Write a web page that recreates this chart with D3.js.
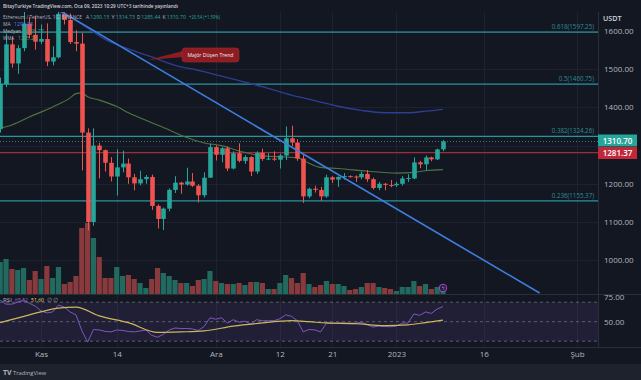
<!DOCTYPE html>
<html><head><meta charset="utf-8">
<script src="https://cdn.jsdelivr.net/npm/d3@7"></script>
<style>
html,body{margin:0;padding:0;background:#131722;overflow:hidden;}
svg{display:block;font-family:"Open Sans",sans-serif;}
</style></head><body>
<svg id="c" width="641" height="380"></svg>
<script>
// ---------- DATA ----------
const dates = ["2022-10-25","2022-10-26","2022-10-27","2022-10-28","2022-10-29","2022-10-30","2022-10-31",
"2022-11-01","2022-11-02","2022-11-03","2022-11-04","2022-11-05","2022-11-06","2022-11-07","2022-11-08","2022-11-09","2022-11-10",
"2022-11-11","2022-11-12","2022-11-13","2022-11-14","2022-11-15","2022-11-16","2022-11-17","2022-11-18","2022-11-19","2022-11-20",
"2022-11-21","2022-11-22","2022-11-23","2022-11-24","2022-11-25","2022-11-26","2022-11-27","2022-11-28","2022-11-29","2022-11-30",
"2022-12-01","2022-12-02","2022-12-03","2022-12-04","2022-12-05","2022-12-06","2022-12-07","2022-12-08","2022-12-09","2022-12-10",
"2022-12-11","2022-12-12","2022-12-13","2022-12-14","2022-12-15","2022-12-16","2022-12-17","2022-12-18","2022-12-19","2022-12-20",
"2022-12-21","2022-12-22","2022-12-23","2022-12-24","2022-12-25","2022-12-26","2022-12-27","2022-12-28","2022-12-29","2022-12-30",
"2022-12-31","2023-01-01","2023-01-02","2023-01-03","2023-01-04","2023-01-05","2023-01-06","2023-01-07","2023-01-08","2023-01-09"];
const opens = [1343,1461,1565,1515,1555,1619,1590,
1572,1579,1520,1531,1645,1629,1571,1567,1334,1100,
1300,1288,1255,1219,1243,1253,1217,1201,1212,1218,
1142,1108,1135,1184,1203,1198,1206,1195,1170,1216,
1296,1276,1293,1240,1280,1260,1270,1232,1281,1265,
1266,1263,1274,1319,1308,1266,1167,1187,1184,1167,
1217,1211,1218,1220,1219,1217,1226,1212,1189,1200,
1197,1196,1200,1214,1214,1256,1251,1269,1264,1290.15];
const highs = [1478,1593,1585,1563,1665,1637,1640,
1617,1620,1560,1680,1674,1646,1602,1595,1345,1345,
1307,1290,1270,1290,1287,1266,1226,1234,1223,1224,
1146,1138,1188,1220,1205,1242,1228,1199,1230,1305,
1301,1296,1298,1285,1306,1275,1272,1285,1292,1280,
1285,1279,1350,1352,1317,1275,1190,1195,1192,1224,
1220,1219,1228,1222,1222,1232,1236,1216,1205,1202,
1210,1205,1220,1225,1269,1260,1274,1271,1292,1314.73];
const lows = [1334,1453,1504,1488,1547,1581,1551,
1566,1508,1510,1528,1617,1566,1547,1235,1078,1090,
1214,1232,1206,1169,1230,1200,1183,1196,1200,1132,
1083,1079,1128,1176,1174,1195,1192,1151,1164,1216,
1261,1256,1233,1238,1256,1252,1220,1226,1260,1262,
1260,1240,1262,1298,1260,1150,1162,1177,1155,1163,
1202,1192,1211,1216,1205,1212,1205,1185,1183,1183,
1191,1192,1195,1205,1212,1241,1235,1259,1262,1285.44];
const closes = [1461,1565,1515,1555,1619,1590,1572,
1579,1520,1531,1645,1629,1571,1567,1334,1100,1300,
1288,1255,1219,1243,1253,1217,1201,1212,1218,1142,
1108,1135,1184,1203,1198,1206,1195,1170,1216,1296,
1276,1293,1240,1280,1260,1270,1232,1281,1265,1266,
1263,1274,1319,1308,1266,1167,1187,1184,1167,1217,
1211,1218,1220,1219,1217,1226,1212,1189,1200,1197,
1196,1200,1214,1215,1256,1251,1269,1264,1290,1310.70];
// volume, thousand ETH
const volumes = [1920,2100,1500,1440,1560,840,1380,
900,1680,960,1620,600,720,1080,3960,4260,3360,
2220,960,960,1620,1080,1140,900,660,360,900,
1560,1260,1080,840,660,660,480,840,900,1380,
780,660,600,600,660,540,720,720,660,300,
300,660,1140,960,660,1260,600,420,540,780,
600,600,480,240,300,420,660,660,420,360,
300,180,420,420,780,480,600,300,420,240];
const rsiValues = [72,68,68,70,72,69,66,
61,59,60,67,65,60,57,41,29,42,
41.5,40,39.5,41.5,41,40,39.5,40.5,41.5,36,
34,37,41.5,43.5,43,43,42.5,41,45,54,
52.5,54,48.5,52,49.5,50.5,47.5,52,51,51,
51,53,57,55.5,51,39.5,42,41.5,39.5,48.5,
48,48.5,48.7,48.6,48.5,49.5,47,44.5,45.5,45,
44.8,45.5,48.5,48.7,58,56.5,60,58.5,63,65.5];
// RSI moving average (sampled)
const rsiMaDates = ["2022-10-25","2022-10-30","2022-11-04","2022-11-07","2022-11-11","2022-11-16","2022-11-21","2022-11-25","2022-11-29","2022-12-04","2022-12-09","2022-12-14","2022-12-17","2022-12-20","2022-12-25","2022-12-30","2023-01-03","2023-01-06","2023-01-09"];
const rsiMaValues = [49,57,64,65,56,49,39,39.5,40.5,45.5,48.7,51,50,48.7,48,46,46.8,49,51.6];
// 200 MA (navy)
const maDates = ["2022-10-25","2022-10-29","2022-11-02","2022-11-04","2022-11-08","2022-11-12","2022-11-16","2022-11-20","2022-11-24","2022-11-28","2022-12-02","2022-12-06","2022-12-10","2022-12-14","2022-12-18","2022-12-22","2022-12-26","2022-12-30","2023-01-03","2023-01-06","2023-01-09"];
const maValues = [1700,1685,1666,1652,1618,1578,1553,1532,1510,1497,1482,1466,1450,1432,1418,1403,1392,1386,1386,1390,1395];
// WMA (olive)
const wmaDates = ["2022-10-25","2022-10-27","2022-10-30","2022-11-03","2022-11-06","2022-11-07","2022-11-08","2022-11-09","2022-11-11","2022-11-14","2022-11-16","2022-11-20","2022-11-23","2022-11-26","2022-11-29","2022-12-02","2022-12-05","2022-12-09","2022-12-13","2022-12-15","2022-12-17","2022-12-19","2022-12-22","2022-12-27","2023-01-01","2023-01-04","2023-01-06","2023-01-09"];
const wmaValues = [1346,1354,1375,1401,1425,1436,1438,1428,1419,1402,1386,1360,1341,1321,1307,1300,1286,1273,1270,1268,1254,1243,1240,1233,1228,1230,1234,1237];
// Drawings
const trendDates = ["2022-11-04T14:00","2023-01-25T14:00"];
const trendPrices = [1650,914];
const fibLevels = ["0.618","0.5","0.382","0.236"];
const fibPrices = [1597.25,1460.75,1324.26,1155.37];
const redLevel = 1281.37;
const lastPrice = 1310.70;
// Axis ticks
const priceTicks = [1600,1500,1400,1200,1100,1000];
const priceGrid = [1000,1100,1200,1300,1400,1500,1600];
const timeTicks = ["2022-11-01","2022-11-14","2022-12-01","2022-12-12","2022-12-21","2023-01-01","2023-01-16","2023-02-01"];
const timeLabels = ["Kas","14","Ara","12","21","2023","16","Şub"];
const rsiTicks = [75,50];
const rsiBands = [70,50,30];

// ---------- SETUP ----------
const pd = d3.timeParse("%Y-%m-%d"), pdt = d3.timeParse("%Y-%m-%dT%H:%M");
const svg = d3.select("#c");
const PR = 598, PT = 12, PB = 294, RT = 295, RB = 347;
const x = d3.scaleTime().domain([pd("2022-11-01"), pd("2023-02-01")]).range([41, 577]);
const y = d3.scaleLinear().domain([911.5, 1649.7]).range([PB, PT]);
const yv = d3.scaleLinear().domain([0, 4260]).range([PB, 223]);
const yr = d3.scaleLinear().domain([24, 77.4]).range([RB, RT]);

const candles = dates.map((d,i)=>({date:pd(d),o:opens[i],h:highs[i],l:lows[i],c:closes[i],v:volumes[i],r:rsiValues[i]}));
const UP="#26a69a", DN="#ef5350";

svg.append("rect").attr("width",641).attr("height",380).attr("fill","#131722");
svg.append("rect").attr("x",0).attr("y",364).attr("width",641).attr("height",16).attr("fill","#1e222d");

const defs = svg.append("defs");
defs.append("clipPath").attr("id","pc").append("rect").attr("x",0).attr("y",PT).attr("width",PR).attr("height",PB-PT);
defs.append("clipPath").attr("id","rc").append("rect").attr("x",0).attr("y",RT).attr("width",PR).attr("height",RB-RT);

// grid
const grid = svg.append("g").attr("stroke","#1d2130").attr("stroke-width",1);
timeTicks.forEach(t=>{ const xx=Math.round(x(pd(t)))+0.5;
  grid.append("line").attr("x1",xx).attr("x2",xx).attr("y1",PT).attr("y2",RB); });
priceGrid.forEach(p=>{ const yy=Math.round(y(p))+0.5;
  grid.append("line").attr("x1",0).attr("x2",PR).attr("y1",yy).attr("y2",yy); });

const pg = svg.append("g").attr("clip-path","url(#pc)");

// volume
pg.selectAll("rect.vol").data(candles).join("rect").attr("class","vol")
  .attr("x",d=>x(d.date)-2.6).attr("width",5.2)
  .attr("y",d=>yv(d.v)).attr("height",d=>PB-yv(d.v))
  .attr("fill",d=>d.c>=d.o?"#22695f":"#883a3c");

// fib lines
fibPrices.forEach((p,i)=>{
  const yy=y(p);
  pg.append("line").attr("x1",0).attr("x2",PR).attr("y1",yy).attr("y2",yy).attr("stroke","#2896a0").attr("stroke-width",1.2);
  svg.append("text").attr("x",594).attr("y",yy-3).attr("text-anchor","end").attr("font-size",6.2)
    .attr("fill","#2f8e94").text(`${fibLevels[i]}(${p.toFixed(2)})`);
});
// red level and last price line
pg.append("line").attr("x1",0).attr("x2",PR).attr("y1",y(redLevel)).attr("y2",y(redLevel)).attr("stroke","#a02c37").attr("stroke-width",1.2);
pg.append("line").attr("x1",0).attr("x2",PR).attr("y1",y(lastPrice)).attr("y2",y(lastPrice)).attr("stroke","#3f7774").attr("stroke-width",1).attr("stroke-dasharray","1,2");

// MA lines
const lineP = d3.line().x(d=>x(d[0])).y(d=>y(d[1])).curve(d3.curveMonotoneX);
pg.append("path").attr("d",lineP(maDates.map((d,i)=>[pd(d),maValues[i]]))).attr("fill","none").attr("stroke","#2c3f93").attr("stroke-width",1.3);
pg.append("path").attr("d",lineP(wmaDates.map((d,i)=>[pd(d),wmaValues[i]]))).attr("fill","none").attr("stroke","#4d7544").attr("stroke-width",1.1);

// candles
const cg = pg.append("g");
cg.selectAll("line.w").data(candles).join("line").attr("class","w")
  .attr("x1",d=>Math.round(x(d.date))+0.5).attr("x2",d=>Math.round(x(d.date))+0.5)
  .attr("y1",d=>y(d.h)).attr("y2",d=>y(d.l)).attr("stroke",d=>d.c>=d.o?UP:DN).attr("stroke-width",1);
cg.selectAll("rect.b").data(candles).join("rect").attr("class","b")
  .attr("x",d=>Math.round(x(d.date))+0.5-2.3).attr("width",4.6)
  .attr("y",d=>y(Math.max(d.o,d.c))).attr("height",d=>Math.max(1,Math.abs(y(d.o)-y(d.c))))
  .attr("fill",d=>d.c>=d.o?UP:DN);

// trend line
pg.append("line").attr("x1",x(pdt(trendDates[0]))).attr("y1",y(trendPrices[0]))
  .attr("x2",x(pdt(trendDates[1]))).attr("y2",y(trendPrices[1])).attr("stroke","#3d7fe0").attr("stroke-width",1.6);

// callout
svg.append("path").attr("d","M183,51 L148,60 L183,57 Z").attr("fill","#8e1d23");
svg.append("rect").attr("x",182).attr("y",48).attr("width",57).attr("height",14).attr("rx",3).attr("fill","#8e1d23").attr("stroke","#a8262c").attr("stroke-width",0.6);
svg.append("text").attr("x",210.5).attr("y",57.3).attr("text-anchor","middle").attr("font-size",5.8).attr("fill","#f0f0f0")
  .attr("textLength",46).attr("lengthAdjust","spacingAndGlyphs").text("Majör Düşen Trend");

// event icon
svg.append("circle").attr("cx",443).attr("cy",288).attr("r",3.8).attr("fill","#2a1d3d").attr("stroke","#a04cc4").attr("stroke-width",1);
svg.append("text").attr("x",443).attr("y",290).attr("text-anchor","middle").attr("font-size",5).attr("fill","#c070e0").text("ϟ");

// ---------- RSI pane ----------
svg.append("line").attr("x1",0).attr("x2",641).attr("y1",PB+0.5).attr("y2",PB+0.5).attr("stroke","#2a2e39");
const rg = svg.append("g").attr("clip-path","url(#rc)");
rg.append("rect").attr("x",0).attr("width",PR).attr("y",yr(70)).attr("height",yr(30)-yr(70)).attr("fill","rgba(126,87,194,0.13)");
rsiBands.forEach(v=>rg.append("line").attr("x1",0).attr("x2",PR).attr("y1",yr(v)).attr("y2",yr(v))
  .attr("stroke","#6b6e7a").attr("stroke-dasharray","3,3").attr("stroke-width",0.8));
const lineR = d3.line().x(d=>x(d[0])).y(d=>yr(d[1]));
rg.append("path").attr("d",lineR(candles.map(d=>[d.date,d.r]))).attr("fill","none").attr("stroke","#7e57c2").attr("stroke-width",1);
rg.append("path").attr("d",lineR.curve(d3.curveMonotoneX)(rsiMaDates.map((d,i)=>[pd(d),rsiMaValues[i]]))).attr("fill","none").attr("stroke","#cbb85a").attr("stroke-width",1.2);
svg.append("line").attr("x1",0).attr("x2",641).attr("y1",RB+0.5).attr("y2",RB+0.5).attr("stroke","#2a2e39");
svg.append("line").attr("x1",PR+0.5).attr("x2",PR+0.5).attr("y1",PT).attr("y2",RB).attr("stroke","#2a2e39");

// ---------- axes ----------
const txtCol="#b2b5be";
const ay = svg.append("g").attr("transform",`translate(${PR},0)`).call(d3.axisRight(y).tickValues(priceTicks).tickFormat(d=>d.toFixed(2)).tickSize(0).tickPadding(6));
const ar = svg.append("g").attr("transform",`translate(${PR},0)`).call(d3.axisRight(yr).tickValues(rsiTicks).tickFormat(d=>d.toFixed(2)).tickSize(0).tickPadding(6));
const ax = svg.append("g").attr("transform",`translate(0,${RB})`).call(d3.axisBottom(x).tickValues(timeTicks.map(pd)).tickFormat((d,i)=>timeLabels[i]).tickSize(0).tickPadding(4));
[ay,ar,ax].forEach(a=>{a.select(".domain").remove(); a.selectAll("text").attr("fill",txtCol).attr("font-size",8).attr("font-family","Open Sans, sans-serif");});
svg.append("text").attr("x",603).attr("y",21).attr("font-size",7.2).attr("font-weight",600).attr("fill","#d1d4dc").text("USDT");

// last price labels
svg.append("rect").attr("x",598).attr("y",134.5).attr("width",39).attr("height",12).attr("fill","#26a69a");
svg.append("text").attr("x",617.5).attr("y",143.6).attr("text-anchor","middle").attr("font-size",8).attr("font-weight",600).attr("fill","#fff").text(lastPrice.toFixed(2));
svg.append("rect").attr("x",598).attr("y",147).attr("width",39).attr("height",12).attr("fill","#c0283a");
svg.append("text").attr("x",617.5).attr("y",156.1).attr("text-anchor","middle").attr("font-size",8).attr("font-weight",600).attr("fill","#fff").text(redLevel.toFixed(2));

// ---------- legends ----------
function lt(xx,yy,txt,col,len,fs){
  const t=svg.append("text").attr("x",xx).attr("y",yy).attr("font-size",fs||5.6).attr("fill",col).text(txt);
  if(len) t.attr("textLength",len).attr("lengthAdjust","spacingAndGlyphs");
  return t;
}
lt(3,8,"BitayTurkiye TradingView.com, Oca 09, 2023 10:29 UTC+3 tarihinde yayınlandı","#d1d4dc",175).attr("font-weight",600);
lt(3,19,"Ethereum / TetherUS, 1G, BINANCE","#b2b5be",79,4.8);
const ohlcParts=[["A","1290.15"],["Y","1314.73"],["D","1285.44"],["K","1310.70"]];
ohlcParts.forEach(([l,v],i)=>{
  const x0=86+i*25.5;
  lt(x0,19,l,"#b2b5be",3.2);
  lt(x0+4.2,19,v,"#26a69a",19.2);
});
lt(189,19,"+20.54 (+1.59%)","#26a69a",31);
lt(3,26,"MA","#b2b5be",7.5); lt(14,26,"1290.28","#5d7fe8",19);
lt(3,33,"Medyan","#b2b5be",18); lt(25,33,"1305.77","#3fa67e",19);
lt(3,40,"WMA","#b2b5be",11); lt(18,40,"1235.28","#6f9558",19);
lt(3,302,"RSI","#b2b5be",9);
lt(15,302,"65.52","#8e6bd6",13);
lt(31,302,"51.60","#e3d46a",13);
lt(47,302,"∅","#9598a1");
lt(53,302,"∅","#9598a1");
// footer logo
svg.append("text").attr("x",3).attr("y",374.5).attr("font-size",7).attr("font-weight",700).attr("fill","#b2b5be").text("TV");
svg.append("text").attr("x",13).attr("y",374.5).attr("font-size",5.8).attr("fill","#b2b5be").text("TradingView");
</script>
</body></html>
